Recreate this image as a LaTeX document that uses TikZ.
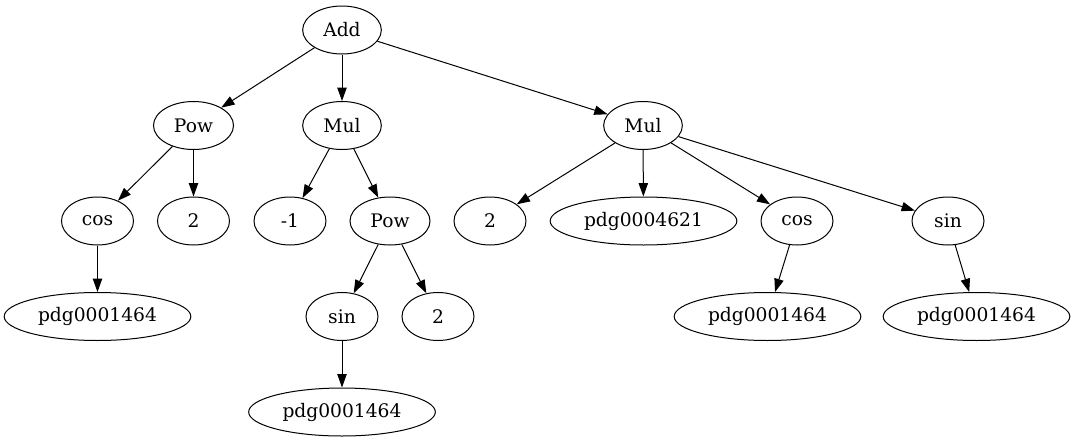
\documentclass[tikz,border=0pt]{standalone}
\usepackage{fontspec}
\setmainfont{DejaVu Serif}
\usetikzlibrary{shapes.geometric,arrows.meta}
\begin{document}
\begin{tikzpicture}[x=0.75pt,y=-0.75pt,
  nd/.style={ellipse,draw,line width=0.75pt,inner sep=0pt,minimum height=36pt,font=\fontsize{14}{16}\selectfont},
  sm/.style={nd,minimum width=54pt},
  md/.style={nd,minimum width=59pt},
  lg/.style={nd,minimum width=140pt},
  ar/.style={-{Triangle[length=10pt,width=7pt]},line width=0.75pt}]
\useasboundingbox (0,0) rectangle (1075,443);
\node[md] (add) at (342,30) {Add};
\node[md,minimum width=60pt] (pow1) at (193.5,125.5) {Pow};
\node[md] (mul1) at (342,125.5) {Mul};
\node[md] (mul2) at (643,125.5) {Mul};
\node[sm] (cos1) at (97.5,221) {cos};
\node[sm] (two1) at (193.5,221) {2};
\node[sm] (m1) at (290,221) {-1};
\node[md,minimum width=60pt] (pow2) at (390,221) {Pow};
\node[sm] (two2) at (490,221) {2};
\node[lg] (pdga) at (643.5,221) {pdg0004621};
\node[sm] (cos2) at (797,221) {cos};
\node[sm] (sin2) at (948,221) {sin};
\node[lg] (pdg1) at (97.5,316.5) {pdg0001464};
\node[sm] (sin1) at (342,316.5) {sin};
\node[sm] (two3) at (438,316.5) {2};
\node[lg] (pdgc) at (767.5,316.5) {pdg0001464};
\node[lg] (pdgs) at (976.5,316.5) {pdg0001464};
\node[lg] (pdg3) at (342,412) {pdg0001464};
\draw[ar] (add) -- (pow1);
\draw[ar] (add) -- (mul1);
\draw[ar] (add) -- (mul2);
\draw[ar] (pow1) -- (cos1);
\draw[ar] (pow1) -- (two1);
\draw[ar] (cos1) -- (pdg1);
\draw[ar] (mul1) -- (m1);
\draw[ar] (mul1) -- (pow2);
\draw[ar] (pow2) -- (sin1);
\draw[ar] (pow2) -- (two3);
\draw[ar] (sin1) -- (pdg3);
\draw[ar] (mul2) -- (two2);
\draw[ar] (mul2) -- (pdga);
\draw[ar] (mul2) -- (cos2);
\draw[ar] (mul2) -- (sin2);
\draw[ar] (cos2) -- (pdgc);
\draw[ar] (sin2) -- (pdgs);
\end{tikzpicture}
\end{document}
